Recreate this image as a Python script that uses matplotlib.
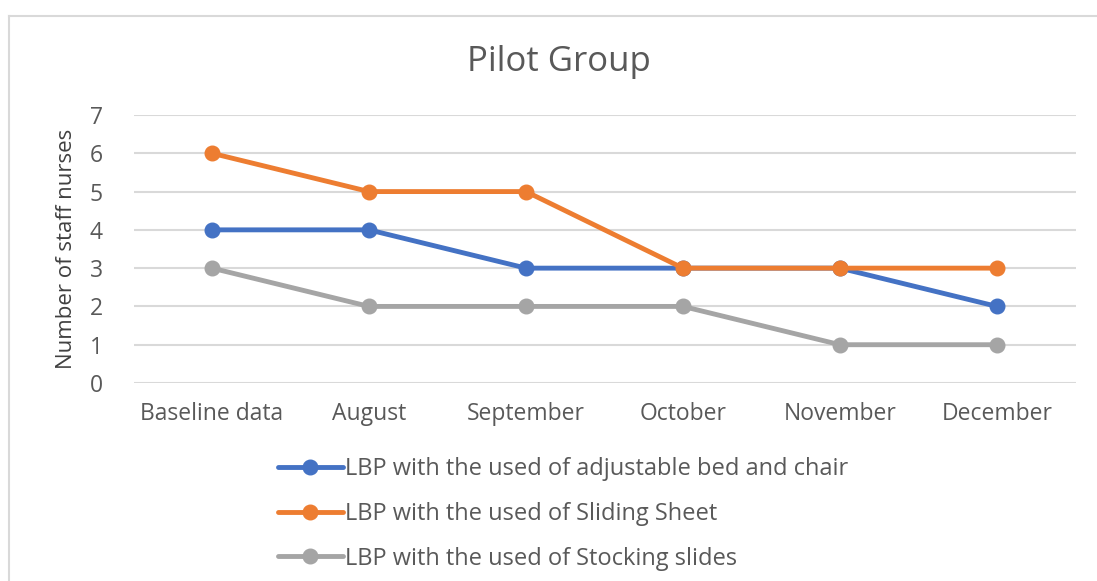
import matplotlib
matplotlib.use("Agg")
import matplotlib.pyplot as plt
from matplotlib.lines import Line2D

plt.rcParams['font.family'] = ['Open Sans', 'DejaVu Sans']

months = ['Baseline data', 'August', 'September', 'October', 'November', 'December']
bed_chair = [4, 4, 3, 3, 3, 2]
sliding_sheet = [6, 5, 5, 3, 3, 3]
stocking_slides = [3, 2, 2, 2, 1, 1]

series = [
    ('LBP with the used of adjustable bed and chair', bed_chair, '#4472C4'),
    ('LBP with the used of Sliding Sheet', sliding_sheet, '#ED7D31'),
    ('LBP with the used of Stocking slides', stocking_slides, '#A5A5A5'),
]

W, H = 1097, 581
fig = plt.figure(figsize=(W / 100, H / 100), dpi=100)

# chart frame (left and top edges visible)
fig.add_artist(Line2D([9 / W, 9 / W], [0, 1 - 16 / H], color='#D9D9D9', lw=1.5))
fig.add_artist(Line2D([9 / W, 1], [1 - 16 / H, 1 - 16 / H], color='#D9D9D9', lw=1.5))

ax = fig.add_axes([133.5 / W, 198 / H, (1075.5 - 133.5) / W, (466 - 198) / H])
x = list(range(len(months)))
for label, vals, col in series:
    ax.plot(x, vals, color=col, lw=3.5, marker='o', markersize=10.5, label=label,
            solid_capstyle='round', zorder=3)

ax.set_xlim(-0.5, len(months) - 0.5)
ax.set_ylim(0, 7)
ax.set_yticks(range(8))
ax.set_xticks(x)
ax.set_xticklabels(months)
ax.tick_params(length=0, labelsize=16.5, labelcolor='#595959')
ax.tick_params(axis='x', pad=14)
ax.tick_params(axis='y', pad=22)
ax.grid(axis='y', color='#D9D9D9', lw=1.5)
ax.set_axisbelow(True)
for s in ax.spines.values():
    s.set_visible(False)
ax.set_ylabel('Number of staff nurses', fontsize=16, color='#404040')
ax.yaxis.set_label_coords(-56 / (1075.5 - 133.5), 0.5)

fig.text(559 / W, 1 - 62 / H, 'Pilot Group', ha='center', va='center', fontsize=25, color='#595959')

handles, labels = ax.get_legend_handles_labels()
fig.legend(handles, labels, loc='center', bbox_to_anchor=(563 / W, 1 - 514 / H), frameon=False,
           fontsize=17, labelcolor='#595959', handlelength=2.75, handletextpad=0.1,
           labelspacing=0.87, borderpad=0)

fig.savefig('out.png', dpi=100)
